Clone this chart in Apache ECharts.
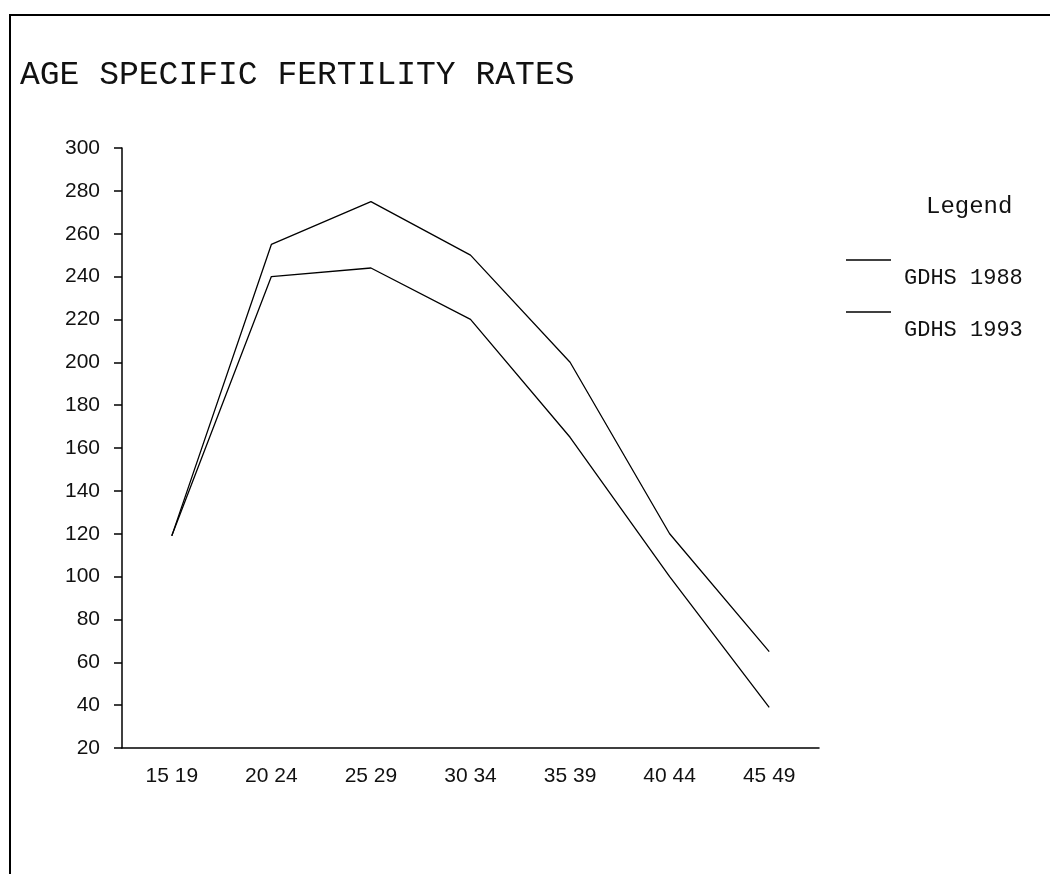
<!DOCTYPE html>
<html>
<head>
<meta charset="utf-8">
<script src="https://cdn.jsdelivr.net/npm/echarts@6/dist/echarts.min.js"></script>
<style>
html,body{margin:0;padding:0;background:#fff;}
#chart{width:1050px;height:874px;}
</style>
</head>
<body>
<div id="chart"></div>
<script>
const categories = ['15 19', '20 24', '25 29', '30 34', '35 39', '40 44', '45 49'];
const gdhs1988 = [119, 255, 275, 250, 200, 120, 65];
const gdhs1993 = [119, 240, 244, 220, 165, 100, 39];
const seriesNames = ['GDHS 1988', 'GDHS 1993'];

const chart = echarts.init(document.getElementById('chart'));
const monoFont = '"Liberation Mono", "DejaVu Sans Mono", monospace';
const sansFont = '"Liberation Sans", Arial, sans-serif';

function legendFor(name, top) {
  return {
    data: [name],
    left: 846,
    top: top,
    orient: 'vertical',
    icon: 'rect',
    itemWidth: 45,
    itemHeight: 1.5,
    itemGap: 0,
    padding: 0,
    selectedMode: false,
    formatter: n => '{s|}\n{t|' + n + '}',
    textStyle: {
      fontFamily: monoFont, fontSize: 22, color: '#111',
      rich: {
        s: { height: 36, lineHeight: 36, fontSize: 10 },
        t: { fontFamily: monoFont, fontSize: 22, lineHeight: 22, color: '#111', padding: [0, 0, 0, 8] }
      }
    }
  };
}

chart.setOption({
  backgroundColor: '#fff',
  animation: false,
  title: [
    {
      text: 'AGE SPECIFIC FERTILITY RATES',
      left: 20, top: 59, padding: 0,
      textStyle: { fontFamily: monoFont, fontSize: 33, fontWeight: 'normal', color: '#111' }
    },
    {
      text: 'Legend',
      left: 926, top: 195, padding: 0,
      textStyle: { fontFamily: monoFont, fontSize: 24, fontWeight: 'normal', color: '#111' }
    }
  ],
  legend: [legendFor(seriesNames[0], 231), legendFor(seriesNames[1], 283)],
  graphic: [{
    type: 'rect',
    shape: { x: 10, y: 15, width: 1200, height: 1000 },
    style: { fill: 'none', stroke: '#000', lineWidth: 2 },
    silent: true
  }],
  grid: { left: 122, right: 231, top: 148, bottom: 126 },
  xAxis: {
    type: 'category',
    data: categories,
    boundaryGap: true,
    axisLine: { lineStyle: { color: '#000', width: 1.5 } },
    axisTick: { alignWithLabel: true, length: 8, lineStyle: { color: '#000', width: 1.5 } },
    axisLabel: { margin: 18, fontFamily: sansFont, fontSize: 21, color: '#111' },
    splitLine: { show: false }
  },
  yAxis: {
    type: 'value',
    min: 20, max: 300, interval: 20,
    axisLine: { show: true, lineStyle: { color: '#000', width: 1.5 } },
    axisTick: { show: true, length: 8, lineStyle: { color: '#000', width: 1.5 } },
    axisLabel: { margin: 22, fontFamily: sansFont, fontSize: 21, color: '#111' },
    splitLine: { show: false }
  },
  series: [
    {
      name: seriesNames[0], type: 'line', data: gdhs1988,
      showSymbol: false, symbol: 'none',
      itemStyle: { color: '#000' },
      lineStyle: { color: '#000', width: 1.3 }
    },
    {
      name: seriesNames[1], type: 'line', data: gdhs1993,
      showSymbol: false, symbol: 'none',
      itemStyle: { color: '#000' },
      lineStyle: { color: '#000', width: 1.3 }
    }
  ]
});
</script>
</body>
</html>
